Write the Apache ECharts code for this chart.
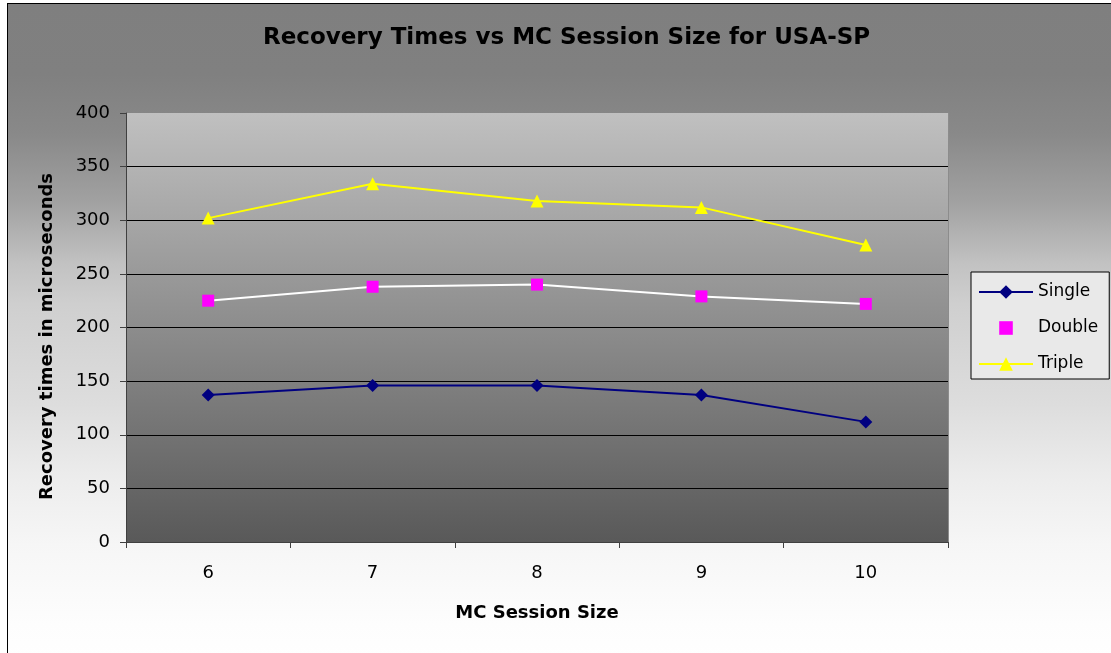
<!DOCTYPE html>
<html>
<head>
<meta charset="utf-8">
<title>Recovery Times vs MC Session Size for USA-SP</title>
<script src="https://cdn.jsdelivr.net/npm/echarts@6/dist/echarts.min.js"></script>
<style>
  html, body { margin: 0; padding: 0; background: #ffffff; }
  #frame {
    position: absolute; left: 7px; top: 3px; width: 1110px; height: 660px;
    border: 1px solid #000000;
    background: linear-gradient(to bottom,
      #7f7f7f 0px, #808080 70px, #898989 130px, #a2a2a2 200px, #c2c2c2 260px,
      #cfcfcf 300px, #dddddd 400px, #ededed 477px, #f6f6f6 540px, #fdfdfd 620px, #ffffff 660px);
  }
  #chart { position: absolute; left: 0; top: 0; width: 1111px; height: 653px; }
</style>
</head>
<body>
<div id="frame"></div>
<div id="chart"></div>
<script>
// Session sizes along the x axis
const categories = ['6', '7', '8', '9', '10'];
// Recovery times (microseconds) per failure type
const singleTimes = [137, 146, 146, 137, 112];
const doubleTimes = [225, 238, 240, 229, 222];
const tripleTimes = [302, 334, 318, 312, 277];
// Value axis range
const yMin = 0;
const yMax = 400;
const yStep = 50;

const FONT = 'DejaVu Sans';
const chart = echarts.init(document.getElementById('chart'), null, { renderer: 'canvas' });

// last split line (at the top edge) is left undrawn
const tickCount = (yMax - yMin) / yStep + 1;
const splitColors = [];
for (let i = 0; i < tickCount; i++) splitColors.push(i === tickCount - 1 ? 'rgba(0,0,0,0)' : '#000000');

chart.setOption({
  animation: false,
  backgroundColor: 'transparent',
  textStyle: { fontFamily: FONT, color: '#000000' },
  title: {
    text: 'Recovery Times vs MC Session Size for USA-SP',
    left: 258,
    top: 22,
    textStyle: { fontFamily: FONT, fontSize: 23, fontWeight: 'bold', color: '#000000' }
  },
  legend: {
    orient: 'vertical',
    left: 971,
    top: 272,
    padding: [11, 11, 6, 7],
    itemWidth: 54,
    itemHeight: 17,
    itemGap: 18,
    backgroundColor: '#e9e9e9',
    borderColor: '#000000',
    borderWidth: 1,
    borderRadius: 0,
    textStyle: { fontFamily: FONT, fontSize: 17, color: '#000000', lineHeight: 18 },
    data: [
      { name: 'Single' },
      { name: 'Double', lineStyle: { opacity: 0 } },
      { name: 'Triple' }
    ]
  },
  grid: {
    left: 126, right: 163, top: 113, bottom: 111,
    show: true,
    borderWidth: 0,
    backgroundColor: {
      type: 'linear', x: 0, y: 0, x2: 0, y2: 1,
      colorStops: [
        { offset: 0, color: '#c0c0c0' },
        { offset: 1, color: '#595959' }
      ]
    }
  },
  xAxis: {
    type: 'category',
    data: categories,
    boundaryGap: true,
    name: 'MC Session Size',
    nameLocation: 'middle',
    nameGap: 62,
    nameTextStyle: { fontFamily: FONT, fontSize: 18, fontWeight: 'bold', color: '#000000' },
    axisLine: { show: true, lineStyle: { color: '#404040', width: 1 } },
    axisTick: { show: true, length: 6, lineStyle: { color: '#404040' } },
    axisLabel: { fontFamily: FONT, fontSize: 18, color: '#000000', margin: 22 },
    splitLine: { show: false }
  },
  yAxis: [
    {
      type: 'value',
      min: yMin, max: yMax, interval: yStep,
      name: 'Recovery times in microseconds',
      nameLocation: 'middle',
      nameGap: 70,
      nameTextStyle: { fontFamily: FONT, fontSize: 18, fontWeight: 'bold', color: '#000000', padding: [0, 18, 0, 0] },
      axisLine: { show: true, lineStyle: { color: '#404040', width: 1 } },
      axisTick: { show: true, length: 6, lineStyle: { color: '#404040' } },
      axisLabel: { fontFamily: FONT, fontSize: 18, color: '#000000', margin: 16 },
      splitLine: { show: true, lineStyle: { color: splitColors, width: 1 } }
    },
    {
      type: 'value',
      position: 'right',
      min: yMin, max: yMax, interval: yStep,
      axisLine: { show: true, lineStyle: { color: '#8c8c8c', width: 1 } },
      axisTick: { show: false },
      axisLabel: { show: false },
      splitLine: { show: false }
    }
  ],
  series: [
    {
      name: 'Single',
      type: 'line',
      data: singleTimes,
      symbol: 'diamond',
      symbolSize: 13,
      lineStyle: { color: '#000080', width: 2 },
      itemStyle: { color: '#000080' }
    },
    {
      name: 'Double',
      type: 'line',
      data: doubleTimes,
      symbol: 'rect',
      symbolSize: 12,
      lineStyle: { color: '#ffffff', width: 2 },
      itemStyle: { color: '#ff00ff' }
    },
    {
      name: 'Triple',
      type: 'line',
      data: tripleTimes,
      symbol: 'triangle',
      symbolSize: 13,
      lineStyle: { color: '#ffff00', width: 2 },
      itemStyle: { color: '#ffff00' }
    }
  ]
});
</script>
</body>
</html>
